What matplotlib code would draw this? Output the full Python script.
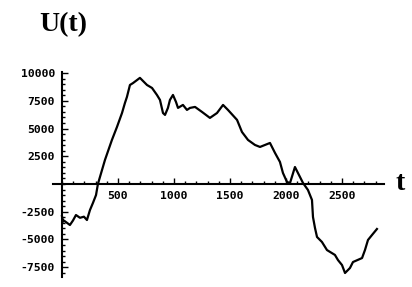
import matplotlib
matplotlib.use("Agg")
import matplotlib.pyplot as plt
from matplotlib.ticker import MultipleLocator, FixedLocator

# values
t = [0, 10, 18, 71, 98, 125, 161, 196, 223, 250, 277, 304, 321, 384, 446,
     491, 536, 562, 580, 607, 634, 696, 759, 804, 848, 875, 902, 920, 946,
     964, 991, 1018, 1036, 1080, 1116, 1143, 1188, 1250, 1321, 1384, 1438,
     1482, 1563, 1607, 1661, 1723, 1768, 1857, 1902, 1946, 1973, 2009, 2036,
     2080, 2125, 2152, 2196, 2232, 2241, 2259, 2277, 2321, 2366, 2437, 2464,
     2500, 2527, 2571, 2598, 2679, 2705, 2732, 2768, 2812]
u = [-2900, -3400, -3300, -3700, -3300, -2800, -3050, -2950, -3250, -2350,
     -1700, -1000, 0, 2170, 3970, 5140, 6400, 7300, 7850, 8930, 9100, 9570,
     8930, 8660, 8030, 7580, 6400, 6230, 6860, 7580, 8030, 7400, 6860, 7130,
     6680, 6860, 6950, 6500, 5960, 6400, 7130, 6680, 5780, 4690, 3970, 3520,
     3340, 3700, 2800, 1990, 990, 180, 90, 1530, 630, 90, -540, -1440, -2980,
     -3970, -4780, -5230, -5960, -6400, -6860, -7310, -8030, -7580, -7040,
     -6680, -5960, -5050, -4600, -4060]

x_ticks = [500, 1000, 1500, 2000, 2500]
y_ticks = [-7500, -5000, -2500, 2500, 5000, 7500, 10000]

fig = plt.figure(figsize=(4.12, 2.87), dpi=100)
ax = fig.add_axes([53 / 412, 10 / 287, 331 / 412, 205 / 287])

ax.plot(t, u, color='black', lw=1.6)

ax.set_xlim(-80, 2875)
ax.set_ylim(-8390, 10100)

# axes cross at the origin
ax.spines['left'].set_position(('data', 0))
ax.spines['bottom'].set_position(('data', 0))
ax.spines['right'].set_visible(False)
ax.spines['top'].set_visible(False)
for s in ('left', 'bottom'):
    ax.spines[s].set_linewidth(1.5)

ax.xaxis.set_major_locator(FixedLocator(x_ticks))
ax.yaxis.set_major_locator(FixedLocator(y_ticks))
ax.xaxis.set_minor_locator(MultipleLocator(100))
ax.yaxis.set_minor_locator(MultipleLocator(500))
ax.set_xticklabels([str(v) for v in x_ticks])
ax.set_yticklabels([str(v) for v in y_ticks])

ax.tick_params(which='major', direction='in', length=4, width=1, pad=5)
ax.tick_params(which='minor', direction='in', length=2, width=1)
for lab in ax.get_xticklabels() + ax.get_yticklabels():
    lab.set_family('DejaVu Sans Mono')
    lab.set_fontsize(8.2)
    lab.set_fontweight('bold')

fig.text(63 / 412, 1 - 25 / 287, 'U(t)', family='Liberation Serif',
         fontweight='bold', fontsize=20, ha='center', va='center')
fig.text(400 / 412, 1 - 184 / 287, 't', family='Liberation Serif',
         fontweight='bold', fontsize=20, ha='center', va='center')

fig.savefig('out.png', dpi=100)
